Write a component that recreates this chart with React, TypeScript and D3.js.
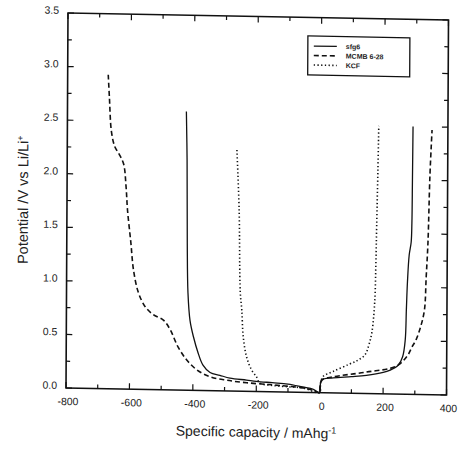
import React from "react";
import * as d3 from "d3";

// charge/discharge curves, capacity in mAh/g, potential in V
const sfgCap = [-425, -422, -420, -417, -410, -399, -384, -369, -346, -315, -283, -231, -200, -150, -100, -54, -20, 0,
  2, 6, 42, 100, 147, 200, 220, 247, 261, 269, 272, 275, 280, 286, 288, 289, 290];
const sfgPot = [2.6, 2.15, 1.37, 0.91, 0.65, 0.5, 0.35, 0.24, 0.17, 0.145, 0.12, 0.105, 0.095, 0.085, 0.075, 0.05, 0.03, 0.0,
  0.08, 0.12, 0.14, 0.155, 0.17, 0.2, 0.22, 0.27, 0.35, 0.51, 0.79, 1.05, 1.3, 1.42, 1.6, 2.0, 2.5];

const mcmbCap = [-672, -668, -661, -650, -636, -622, -614, -609, -598, -589, -573, -551, -526, -494, -472, -447, -419, -387, -346,
  -293, -230, -150, -100, -50, -20, 0,
  2, 8, 42, 147, 241, 276, 290, 303, 318, 329, 334, 339, 344, 350];
const mcmbPot = [2.93, 2.72, 2.4, 2.26, 2.19, 2.1, 1.89, 1.67, 1.37, 1.11, 0.9, 0.77, 0.7, 0.65, 0.56, 0.4, 0.28, 0.19, 0.13,
  0.1, 0.08, 0.065, 0.055, 0.04, 0.02, 0.0,
  0.06, 0.12, 0.15, 0.2, 0.26, 0.36, 0.44, 0.51, 0.64, 0.79, 1.1, 1.42, 2.04, 2.47];

const kcfCap = [-265, -257, -252, -247, -242, -231, -215, -199, -189, -150, -100, -50, 0,
  2, 10, 42, 92, 120, 142, 155, 164, 172, 175, 177, 180, 182];
const kcfPot = [2.25, 1.69, 0.92, 0.76, 0.51, 0.32, 0.2, 0.135, 0.08, 0.06, 0.05, 0.04, 0.0,
  0.08, 0.15, 0.2, 0.27, 0.31, 0.36, 0.46, 0.58, 0.85, 1.2, 1.57, 2.1, 2.5];

const seriesNames = ["sfg6", "MCMB 6-28", "KCF"];
const xTickValues = d3.range(-800, 401, 100);
const yTickValues = d3.range(0, 3.51, 0.25);

const W = 464;
const H = 449;
const left = 67, right = 447.5, top = 16.5, bottom = 391.5;
// the scan is slightly sheared
const cx = 257, cy = 204, shY = 0.0184, shX = -0.0053;

export default function App() {
  const x = d3.scaleLinear().domain([-800, 400]).range([left, right]);
  const y = d3.scaleLinear().domain([0, 3.5]).range([bottom, top]);

  const line = d3.line<[number, number]>()
    .x(d => x(d[0]))
    .y(d => y(d[1]))
    .curve(d3.curveCatmullRom.alpha(0.5));

  const zip = (a: number[], b: number[]) => a.map((v, i) => [v, b[i]] as [number, number]);
  const series = [
    { name: seriesNames[0], pts: zip(sfgCap, sfgPot), dash: "none", w: 1.3 },
    { name: seriesNames[1], pts: zip(mcmbCap, mcmbPot), dash: "5,3", w: 1.6 },
    { name: seriesNames[2], pts: zip(kcfCap, kcfPot), dash: "1.3,2.4", w: 1.6 },
  ];

  const font = "'Liberation Sans', Arial, sans-serif";
  const isMajorX = (v: number) => v % 200 === 0;
  const isMajorY = (v: number) => Math.abs(Math.round(v * 2) - v * 2) < 1e-6;

  const lgX = 307, lgY = 35, lgW = 102, lgH = 39;

  return (
    <svg width={W} height={H} style={{ position: "absolute", left: 0, top: 0, background: "#fff" }}
      fontFamily={font}>
      <g transform={`matrix(1,${shY},${shX},1,${-shX * cy},${-shY * cx})`}>
        {series.map(s => (
          <path key={s.name} d={line(s.pts) ?? ""} fill="none" stroke="#111"
            strokeWidth={s.w} strokeDasharray={s.dash} />
        ))}

        <rect x={left} y={top} width={right - left} height={bottom - top}
          fill="none" stroke="#111" strokeWidth={1.6} />

        {xTickValues.map(v => {
          const len = isMajorX(v) ? 6 : 4;
          return (
            <g key={"x" + v}>
              <line x1={x(v)} x2={x(v)} y1={bottom} y2={bottom - len} stroke="#111" strokeWidth={1.2} />
              <line x1={x(v)} x2={x(v)} y1={top} y2={top + len} stroke="#111" strokeWidth={1.2} />
              {isMajorX(v) && (
                <text x={x(v) + 2} y={bottom + 17} textAnchor="middle" fontSize={10.5} fill="#222">
                  {v}
                </text>
              )}
            </g>
          );
        })}

        {yTickValues.map(v => {
          const len = isMajorY(v) ? 6 : 4;
          return (
            <g key={"y" + v}>
              <line x1={left} x2={left + len} y1={y(v)} y2={y(v)} stroke="#111" strokeWidth={1.2} />
              <line x1={right} x2={right - len} y1={y(v)} y2={y(v)} stroke="#111" strokeWidth={1.2} />
              {isMajorY(v) && (
                <text x={left - 9} y={y(v) + 1} textAnchor="end" fontSize={10.5} fill="#222">
                  {v.toFixed(1)}
                </text>
              )}
            </g>
          );
        })}

        <rect x={lgX} y={lgY} width={lgW} height={lgH} fill="#fff" stroke="#111" strokeWidth={1.3} />
        {series.map((s, i) => {
          const ly = lgY + 10 + i * 9.5;
          return (
            <g key={"lg" + s.name}>
              <line x1={lgX + 6} x2={lgX + 29} y1={ly} y2={ly} stroke="#111"
                strokeWidth={s.w} strokeDasharray={s.dash} />
              <text x={lgX + 38} y={ly + 2.5} fontSize={7} fontWeight="bold" fill="#222">{s.name}</text>
            </g>
          );
        })}

        <text x={(left + right) / 2} y={437} textAnchor="middle" fontSize={14} fill="#222">
          Specific capacity / mAhg<tspan dy={-5} fontSize={9}>-1</tspan>
        </text>
        <text transform={`translate(28,${(top + bottom) / 2}) rotate(-90)`} textAnchor="middle"
          fontSize={14.5} fill="#222">
          Potential /V vs Li/Li<tspan dy={-5} fontSize={9}>+</tspan>
        </text>
      </g>
    </svg>
  );
}
